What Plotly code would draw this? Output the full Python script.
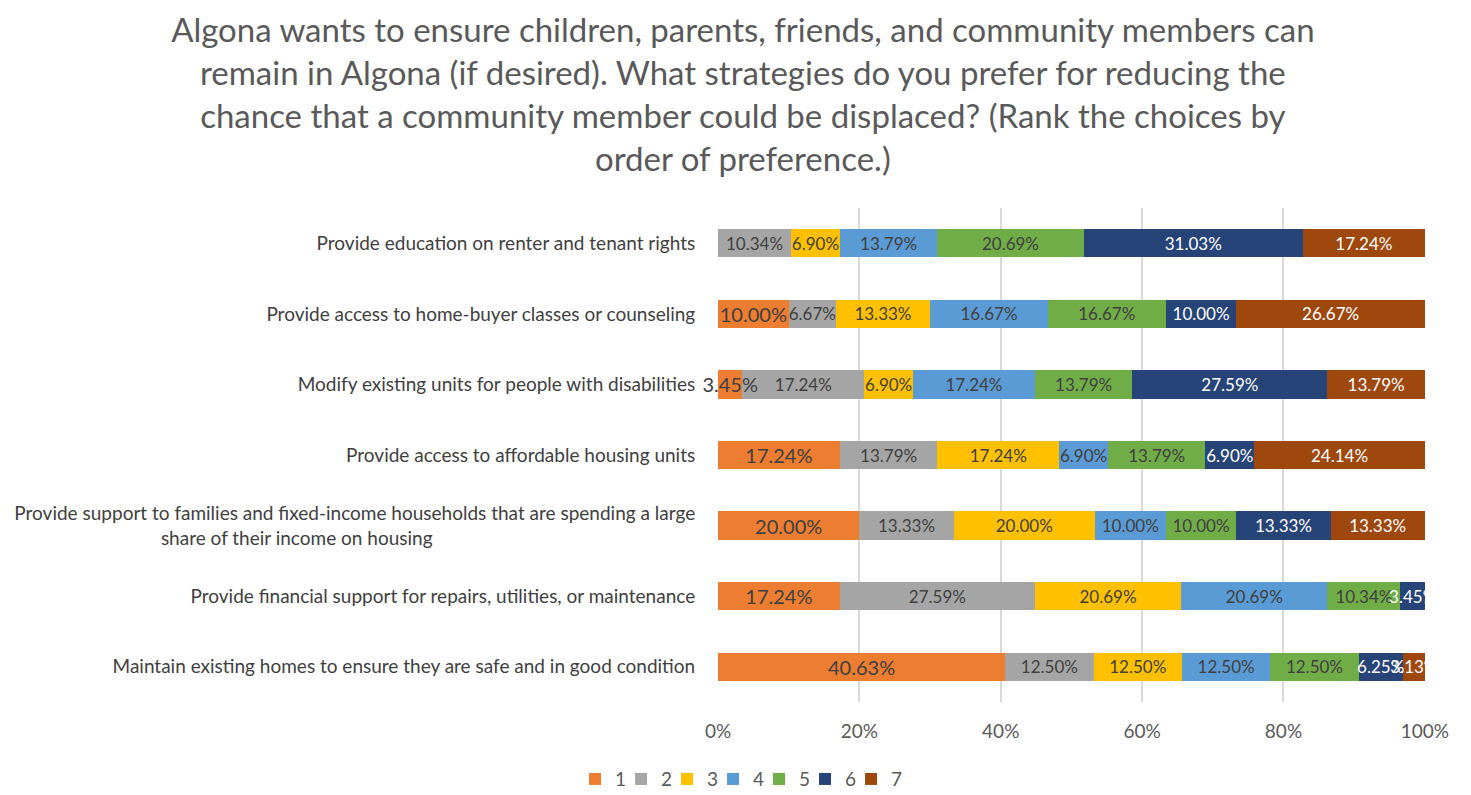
import plotly.graph_objects as go

categories = [
    "Provide education on renter and tenant rights",
    "Provide access to home-buyer classes or counseling",
    "Modify existing units for people with disabilities",
    "Provide access to affordable housing units",
    "Provide support to families and fixed-income households that are spending a large<br>share of their income on housing" + "\u00a0" * 54,
    "Provide financial support for repairs, utilities, or maintenance",
    "Maintain existing homes to ensure they are safe and in good condition",
]
rank_names = ["1", "2", "3", "4", "5", "6", "7"]
rank1 = [0, 10.00, 3.45, 17.24, 20.00, 17.24, 40.63]
rank2 = [10.34, 6.67, 17.24, 13.79, 13.33, 27.59, 12.50]
rank3 = [6.90, 13.33, 6.90, 17.24, 20.00, 20.69, 12.50]
rank4 = [13.79, 16.67, 17.24, 6.90, 10.00, 20.69, 12.50]
rank5 = [20.69, 16.67, 13.79, 13.79, 10.00, 10.34, 12.50]
rank6 = [31.03, 10.00, 27.59, 6.90, 13.33, 3.45, 6.25]
rank7 = [17.24, 26.67, 13.79, 24.14, 13.33, 0, 3.13]
series = [rank1, rank2, rank3, rank4, rank5, rank6, rank7]
x_tick_vals = [0, 20, 40, 60, 80, 100]
x_tick_text = ["0%", "20%", "40%", "60%", "80%", "100%"]

colors = ["#ED7D31", "#A5A5A5", "#FFC000", "#5B9BD5", "#70AD47", "#264478", "#9E480E"]
text_colors = ["#404040", "#404040", "#404040", "#404040", "#404040", "#FFFFFF", "#FFFFFF"]
text_sizes = [20, 17, 17, 17, 17, 17, 17]

FONT = "Lato"
fig = go.Figure()
# Coloured stacked bars
for name, vals, col in zip(rank_names, series, colors):
    fig.add_trace(go.Bar(
        y=categories, x=vals, name=name, orientation="h",
        marker=dict(color=col, line=dict(width=0)),
        hovertemplate="%{y}<br>" + name + ": %{x:.2f}%<extra></extra>",
        xaxis="x", yaxis="y",
    ))
# Data labels drawn on an overlaid axis so they sit above every bar (as in Excel)
for name, vals, tcol, tsz in zip(rank_names, series, text_colors, text_sizes):
    fig.add_trace(go.Bar(
        y=categories, x=vals, name=name, orientation="h", showlegend=False,
        marker=dict(color="rgba(0,0,0,0)", line=dict(width=0)),
        text=[f"{v:.2f}%" if v > 0 else "" for v in vals],
        textposition="inside", insidetextanchor="middle", textangle=0,
        constraintext="none", cliponaxis=False,
        textfont=dict(color=tcol, size=tsz, family=FONT),
        hoverinfo="skip",
        xaxis="x", yaxis="y2",
    ))
# empty spacer entry so the last legend label is not clipped by the compact entry width
fig.add_trace(go.Scatter(x=[None], y=[None], mode="markers", name="\u00a0",
                         marker=dict(color="rgba(0,0,0,0)"), hoverinfo="skip",
                         xaxis="x", yaxis="y"))

title_text = ("Algona wants to ensure children, parents, friends, and community members can<br>"
              "remain in Algona (if desired). What strategies do you prefer for reducing the<br>"
              "chance that a community member could be displaced? (Rank the choices by<br>"
              "order of preference.)")

fig.update_layout(
    barmode="stack", bargap=0.6,
    width=1471, height=795,
    margin=dict(l=718, r=46, t=208, b=93),
    paper_bgcolor="white", plot_bgcolor="white",
    font=dict(family=FONT, color="#595959"),
    title=dict(text=title_text, x=0.505, xref="container", xanchor="center",
               y=0.947, yref="container", yanchor="top",
               font=dict(size=33, color="#595959", family=FONT)),
    legend=dict(orientation="h", xref="container", x=0.516, xanchor="center",
                yref="container", y=0.02, yanchor="middle",
                font=dict(size=19, color="#595959", family=FONT),
                traceorder="normal", itemwidth=30,
                entrywidthmode="pixels", entrywidth=1),
    showlegend=True,
    xaxis=dict(range=[0, 100.02], tickvals=x_tick_vals, ticktext=x_tick_text,
               showgrid=True, gridcolor="#D9D9D9", gridwidth=1.5, zeroline=False,
               tickfont=dict(size=19, color="#595959", family=FONT), ticks="",
               ticklabelstandoff=16, fixedrange=True),
    yaxis=dict(autorange="reversed", showgrid=False, showline=False,
               ticks="outside", ticklen=18, tickcolor="rgba(0,0,0,0)",
               tickfont=dict(size=19, color="#404040", family=FONT)),
    yaxis2=dict(overlaying="y", matches="y", side="left", showticklabels=False,
                showgrid=False, showline=False, ticks="", zeroline=False),
)

fig.write_html("out.html", config={"displayModeBar": False},
               post_script="document.body.style.margin='0';")
